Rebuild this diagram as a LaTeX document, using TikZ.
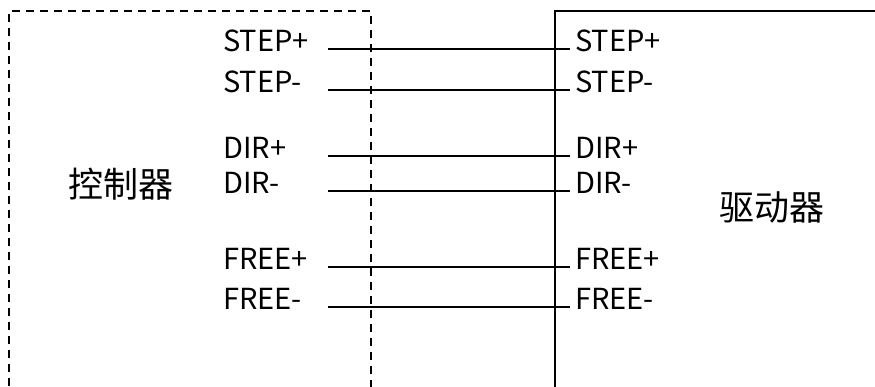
\documentclass[tikz,border=0pt]{standalone}
\usepackage{fontspec}
\setmainfont{Noto Sans CJK SC}
\newfontfamily\cjk{Noto Sans CJK SC}
\begin{document}
\begin{tikzpicture}[x=1pt,y=-1pt,
  sig/.style={anchor=base west,inner sep=0pt,font=\fontsize{29}{29}\selectfont},
  title/.style={inner sep=0pt,font=\cjk\fontsize{35}{35}\selectfont},
  wire/.style={line width=1.8pt},
  box/.style={line width=1.6pt},
  dbox/.style={line width=1.6pt,dash pattern=on 8pt off 6pt}]
\useasboundingbox[fill=white] (0,0) rectangle (875,386);
% boxes
\draw[dbox] (9,400) -- (9,11) -- (371,11) -- (371,400);
\draw[box] (555,400) -- (555,11) -- (890,11);
\node[title] (ctl) at (121,184) {控制器};
\node[title] (drv) at (772,207) {驱动器};
% signals
\foreach \n/\t/\y in {a/STEP+/49, b/STEP-/90, c/DIR+/156, d/DIR-/191, e/FREE+/267, f/FREE-/307}{
  \coordinate (l\n) at (328,\y);
  \coordinate (r\n) at (570,\y);
  \node[sig] (tl\n) at (223,\y+2) {\t};
  \node[sig] (tr\n) at (575,\y+2) {\t};
  \draw[wire] (l\n) -- (r\n);
}
\end{tikzpicture}
\end{document}
